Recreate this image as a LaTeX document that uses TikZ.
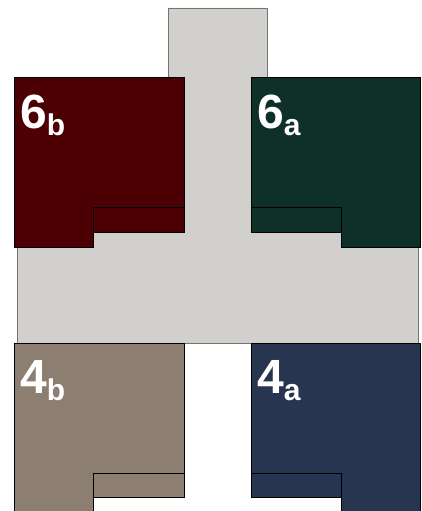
\documentclass[tikz,border=0pt]{standalone}
\usepackage{fontspec}
\setmainfont{Liberation Sans}
\definecolor{grisBase}{HTML}{D1D0CC}
\definecolor{rojoSeis}{HTML}{4C0004}
\definecolor{verdeSeis}{HTML}{0E3028}
\definecolor{cafeCuatro}{HTML}{8C7E70}
\definecolor{azulCuatro}{HTML}{283550}
\newcommand{\subidx}[1]{\raisebox{-7pt}{\fontsize{30}{30}\selectfont #1}}

\begin{document}
\begin{tikzpicture}[x=1pt, y=-1pt,
        base/.style={draw=black!55, fill=grisBase, line width=0.8pt},
        bloque/.style={draw=black, line width=0.8pt, line join=miter},
        etiqueta/.style={anchor=base west, inner sep=0pt, text=white, font=\fontsize{48}{48}\selectfont\bfseries}
    ]
        \useasboundingbox (0,0) rectangle (421,511);

        % Base gris en T
        \draw[base] (168,8) -- (267,8) -- (267,232) -- (418,232) -- (418,343) -- (17,343) -- (17,232) -- (168,232) -- cycle;

        % ---------------- 6b ----------------
        \draw[bloque, fill=rojoSeis] (14,77) -- (184,77) -- (184,232) -- (93,232) -- (93,247) -- (14,247) -- cycle;
        \draw[bloque, fill=rojoSeis] (93,207) rectangle (184,232);

        % ---------------- 6a ----------------
        \draw[bloque, fill=verdeSeis] (251,77) -- (420.5,77) -- (420.5,247) -- (341,247) -- (341,232) -- (251,232) -- cycle;
        \draw[bloque, fill=verdeSeis] (251,207) rectangle (341,232);

        % ---------------- 4b ----------------
        \draw[bloque, fill=cafeCuatro] (14,343) -- (184,343) -- (184,497) -- (93,497) -- (93,520) -- (14,520) -- cycle;
        \draw[bloque, fill=cafeCuatro] (93,473) rectangle (184,497);

        % ---------------- 4a ----------------
        \draw[bloque, fill=azulCuatro] (251,343) -- (420.5,343) -- (420.5,520) -- (341,520) -- (341,497) -- (251,497) -- cycle;
        \draw[bloque, fill=azulCuatro] (251,473) rectangle (341,497);

        % Etiquetas
        \node[etiqueta] (lbl6b) at (20,128) {6\subidx{b}};
        \node[etiqueta] (lbl6a) at (257,128) {6\subidx{a}};
        \node[etiqueta] (lbl4b) at (20,393) {4\subidx{b}};
        \node[etiqueta] (lbl4a) at (257,393) {4\subidx{a}};

    \end{tikzpicture}
\end{document}
